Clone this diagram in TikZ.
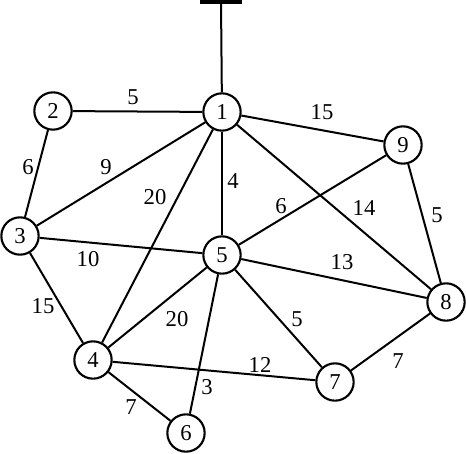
\documentclass[tikz,border=0pt]{standalone}
\usepackage{fontspec}
\setmainfont{Liberation Serif}
\tikzset{
  vtx/.style={draw,circle,line width=1.6pt,minimum size=28pt,inner sep=0pt,font=\fontsize{17}{19}\selectfont},
  edge/.style={line width=1.5pt},
  wlab/.style={inner sep=0pt,font=\fontsize{17}{19}\selectfont},
  gbar/.style={fill=black,minimum width=31pt,minimum height=3pt,inner sep=0pt},
}
\begin{document}
\begin{tikzpicture}[x=0.75pt,y=-0.75pt]
\useasboundingbox (0,0) rectangle (466,453);
% vertices
\foreach \n/\x/\y in {1/222/112,2/53/111,3/20/236,4/93/360,5/222/255,
                      6/186/433,7/335/382,8/446/302,9/403/145}{
  \node[vtx] (n\n) at (\x,\y) {\n};}
% feed point above vertex 1
\node[gbar] (gnd) at (221,2) {};
\draw[edge] (gnd.center) -- (n1);
% edges with their weights
\foreach \a/\b/\w/\x/\y in {1/2/5/133/97,2/3/6/28/167,1/3/9/106/167,1/4/20/155/197,
    1/5/4/233/181,1/9/15/322/112,5/9/6/281/206,1/8/14/364/208,9/8/5/437/215,
    3/5/10/88/259,5/8/13/342/262,3/4/15/43/306,4/5/20/177/319,5/7/5/297/319,
    4/7/12/260/365,5/6/3/207/387,7/8/7/398/361,4/6/7/131/407}{
  \draw[edge] (n\a) -- (n\b);
  \node[wlab] (w\a\b) at (\x,\y) {\w};}
\end{tikzpicture}
\end{document}
